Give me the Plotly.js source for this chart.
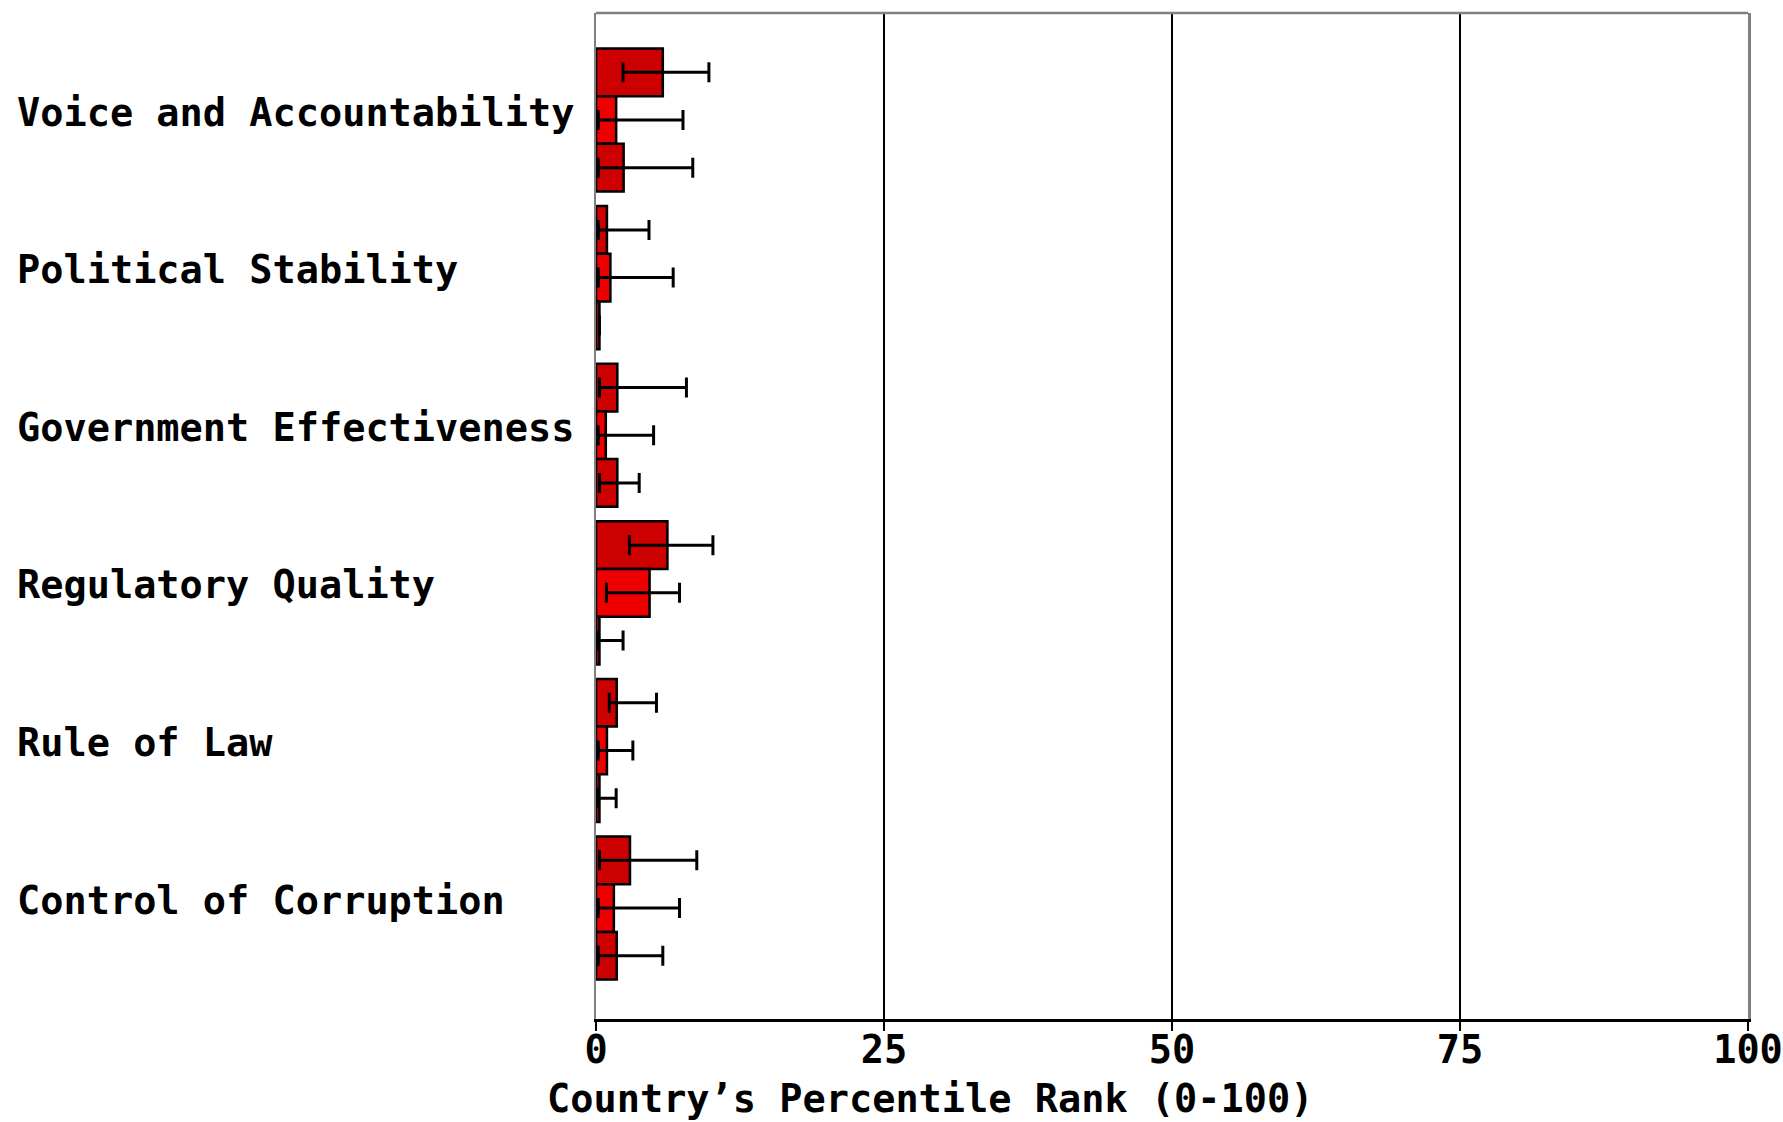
<!DOCTYPE html>
<html>
<head>
<meta charset="utf-8">
<script src="https://cdn.plot.ly/plotly-3.0.1.min.js"></script>
<style>html,body{margin:0;padding:0;background:#fff;}#chart{width:1783px;height:1122px;}</style>
</head>
<body>
<div id="chart"></div>
<script>
var categories = ["Voice and Accountability", "Political Stability", "Government Effectiveness",
                  "Regulatory Quality", "Rule of Law", "Control of Corruption"];
var xTicks = [0, 25, 50, 75, 100];
var xTickLabels = ["0", "25", "50", "75", "100"];
var axisTitle = "Country\u2019s Percentile Rank (0-100)";

// three estimates per indicator (top, middle, bottom bar)
var seriesNames = ["Series 1", "Series 2", "Series 3"];
var rank1 = [5.8, 0.95, 1.85, 6.2, 1.8, 2.95];
var low1  = [2.35, 0.2, 0.3, 2.9, 1.15, 0.3];
var high1 = [9.8, 4.6, 7.85, 10.15, 5.25, 8.75];

var rank2 = [1.75, 1.25, 0.85, 4.65, 0.95, 1.55];
var low2  = [0.2, 0.2, 0.2, 0.9, 0.2, 0.2];
var high2 = [7.55, 6.7, 5.0, 7.25, 3.2, 7.25];

var rank3 = [2.4, 0.3, 1.85, 0.3, 0.3, 1.8];
var low3  = [0.2, 0.3, 0.3, 0.2, 0.2, 0.2];
var high3 = [8.4, 0.3, 3.75, 2.35, 1.75, 5.8];

var colors = ["#CC0000", "#EE0000", "#CC0000"];

var FONT = {family: "DejaVu Sans Mono", size: 38.6, color: "#000", weight: "bold"};

function mk(i, v, lo, hi) {
  return {
    type: "bar", orientation: "h", name: seriesNames[i],
    y: categories, x: v,
    marker: {color: colors[i], line: {color: "#000", width: 2.5}},
    error_x: {
      type: "data", symmetric: false,
      array: v.map(function (d, k) { return hi[k] - d; }),
      arrayminus: v.map(function (d, k) { return d - lo[k]; }),
      color: "#000", thickness: 3, width: 10
    },
    hoverinfo: "x+y"
  };
}

var data = [mk(0, rank1, low1, high1), mk(1, rank2, low2, high2), mk(2, rank3, low3, high3)];

var annotations = categories.map(function (c) {
  return {xref: "paper", yref: "y", x: -0.504, y: c, text: c, showarrow: false,
          xanchor: "left", yanchor: "middle", yshift: 8, font: FONT};
});
annotations.push({xref: "paper", yref: "paper", x: 0.29, y: 0, yshift: -79, text: axisTitle,
                  showarrow: false, xanchor: "center", yanchor: "middle", font: FONT});

var layout = {
  width: 1783, height: 1122,
  margin: {l: 596, r: 35, t: 13, b: 103, pad: 0},
  paper_bgcolor: "#fff", plot_bgcolor: "#fff",
  barmode: "group", bargap: 0.092, bargroupgap: 0,
  showlegend: false,
  xaxis: {
    range: [0, 100], tickvals: xTicks, ticktext: xTickLabels,
    showgrid: true, gridcolor: "#000", gridwidth: 2, zeroline: false,
    showline: true, linecolor: "#000", linewidth: 2.5, layer: "below traces",
    ticks: "outside", ticklen: 9, tickwidth: 2, tickcolor: "#000",
    ticklabelstandoff: -14, ticklabeloverflow: "allow",
    tickfont: FONT, fixedrange: true
  },
  yaxis: {
    type: "category", categoryorder: "array", categoryarray: categories,
    range: [5.704, -0.679], showticklabels: false, ticks: "",
    showgrid: false, zeroline: false,
    showline: true, mirror: true, linecolor: "#808080", linewidth: 2.5, layer: "below traces",
    fixedrange: true
  },
  shapes: [{type: "line", xref: "paper", yref: "paper", x0: 0, x1: 1, y0: 1, y1: 1,
            line: {color: "#808080", width: 2.5}, layer: "above"}],
  annotations: annotations
};

Plotly.newPlot("chart", data, layout, {displayModeBar: false, staticPlot: true});
</script>
</body>
</html>
